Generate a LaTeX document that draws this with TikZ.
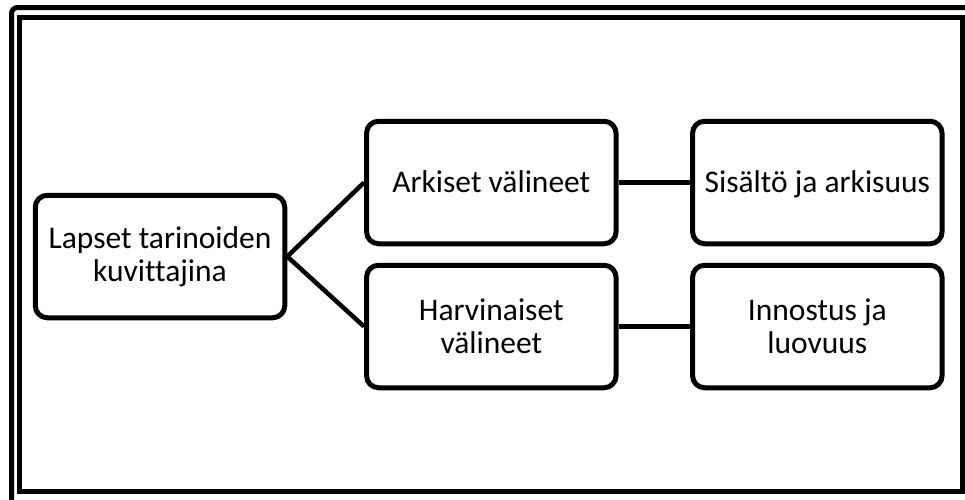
\documentclass[tikz,border=0pt]{standalone}
\usepackage{fontspec}
\setmainfont[Ligatures=NoCommon]{Carlito}
\begin{document}
\begin{tikzpicture}[x=1pt,y=-1pt,
  box/.style={draw=black, line width=5pt, fill=white, rounded corners=12pt,
    minimum width=249.5pt, minimum height=122.5pt, inner sep=0pt,
    align=center, font=\fontsize{31.5}{33}\selectfont},
  oneline/.style={text height=20pt, text depth=0pt},
  link/.style={draw=black, line width=4.5pt},
  frameline/.style={draw=black, line width=5pt}]
  \useasboundingbox (0,0) rectangle (965,499);
  \fill[white] (0,0) rectangle (965,499);
  % double frame round the page
  \draw[frameline, rounded corners=6pt] (11.5,520) -- (11.5,7.5) -- (990,7.5);
  \draw[frameline] (19.8,17.5) rectangle (962.5,491.5);
  % boxes
  \node[box] (root) at (160,256.5) {Lapset tarinoiden\\kuvittajina};
  \node[box, oneline] (ark)  at (491.3,182.5) {Arkiset välineet};
  \node[box] (harv) at (491.3,326.5) {Harvinaiset\\välineet};
  \node[box, oneline] (sis)  at (817.3,182.5) {Sisältö ja arkisuus};
  \node[box] (inn)  at (817.3,326.5) {Innostus ja\\luovuus};
  % connectors
  \draw[link] (ark.west) -- (root.east) -- (harv.west);
  \draw[link] (ark.east) -- (sis.west);
  \draw[link] (harv.east) -- (inn.west);
\end{tikzpicture}
\end{document}
